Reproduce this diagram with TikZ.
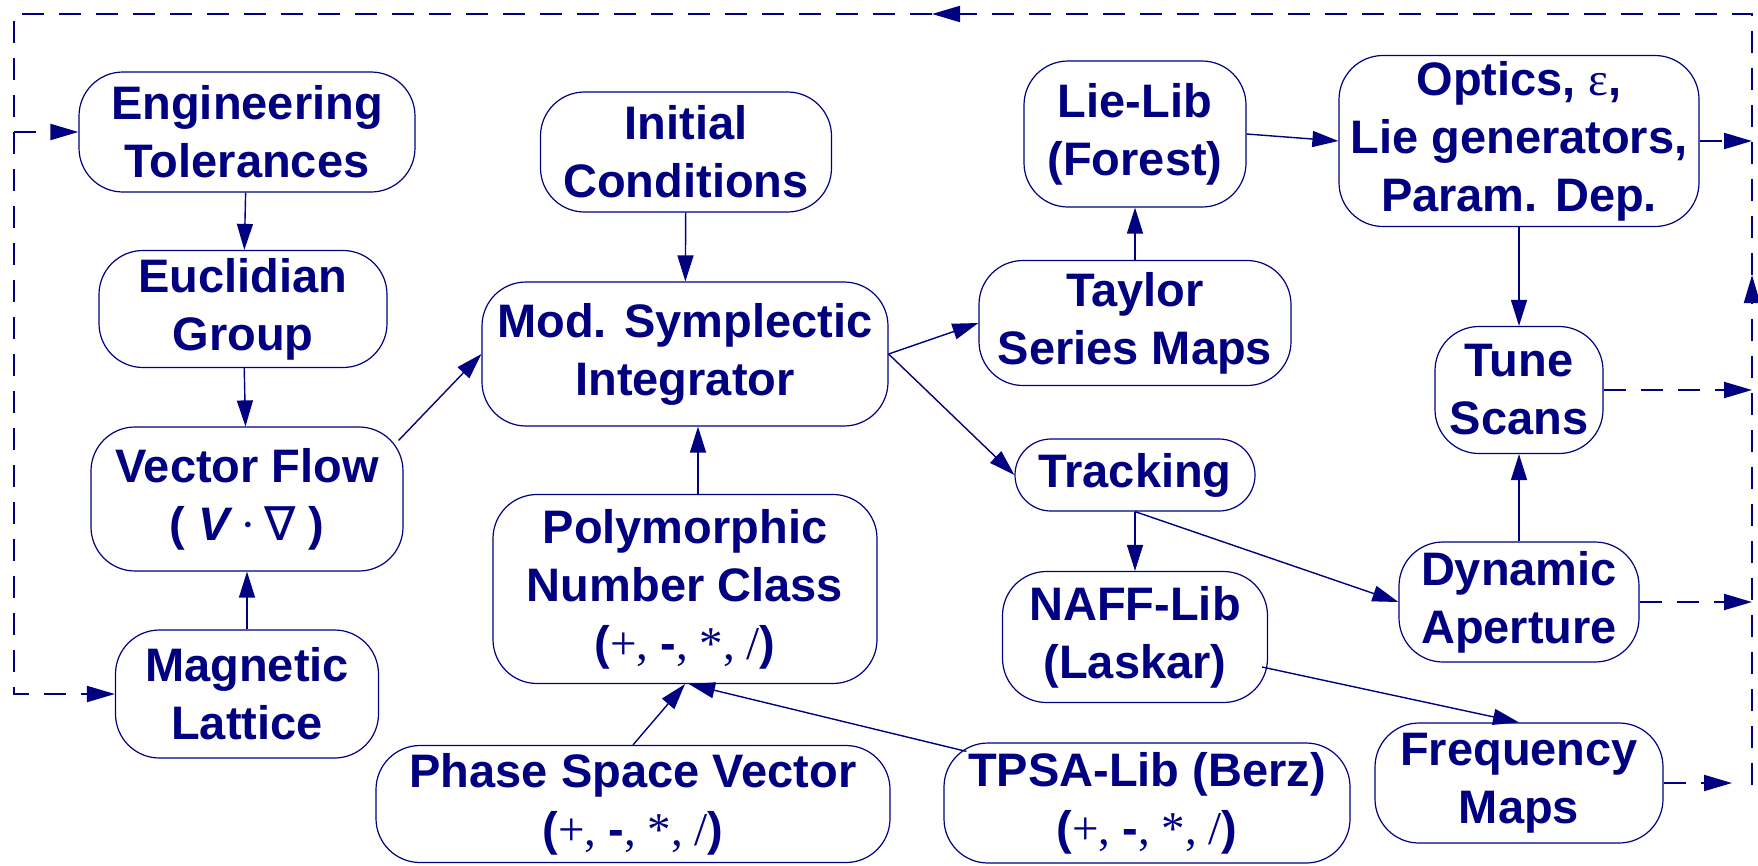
\documentclass[tikz,border=0pt]{standalone}
\usepackage{fontspec}
\setmainfont{Liberation Sans}
\newfontfamily\symbolfont{Liberation Serif}
\newfontfamily\dejavufont{DejaVu Sans}
\usetikzlibrary{arrows.meta}
\definecolor{navyblue}{RGB}{0,0,128}
\newcommand{\arith}{\textbf{(}{\symbolfont\mdseries +, }\textbf{-}{\symbolfont\mdseries , *, /}\textbf{)}}
\begin{document}
\begin{tikzpicture}[x=1pt, y=-1pt,
        every node/.style={font=\fontsize{47}{58}\selectfont\bfseries, text=navyblue},
        box/.style={draw=navyblue, line width=1.2pt, rounded corners=44pt, align=center, inner sep=0pt},
        size/.style 2 args={minimum width=#1pt, minimum height=#2pt},
        arr/.style={draw=navyblue, line width=1.4pt, -{Triangle[length=26pt,width=16pt]}},
        loopline/.style={draw=navyblue, line width=2pt, dash pattern=on 22pt off 15pt},
        looparr/.style={loopline, -{Triangle[length=28pt,width=16pt]}}]
    \useasboundingbox (0,0) rectangle (1758,865);
    \node[box, size={336}{120}] (et) at (247,132) {Engineering\\Tolerances};
    \node[box, size={288}{117}] (eg) at (243,309) {Euclidian\\Group};
    \node[box, size={312}{144}] (vf) at (247,499) {Vector Flow\\\textbf{(} \textit{V}\,{\symbolfont\mdseries ·}\,{\dejavufont\mdseries ∇} \textbf{)}};
    \node[box, size={263}{128}] (ml) at (247,694) {Magnetic\\Lattice};
    \node[box, size={291}{120}] (ic) at (686,152) {Initial\\Conditions};
    \node[box, size={406}{144}] (ms) at (685,354) {Mod. Symplectic\\Integrator};
    \node[box, size={384}{189}] (pn) at (685,589) {Polymorphic\\Number Class\\\arith};
    \node[box, size={514}{117}] (ps) at (633,804) {Phase Space Vector\\\arith};
    \node[box, size={406}{120}] (tp) at (1147,803) {TPSA-Lib (Berz)\\\arith};
    \node[box, size={222}{146}] (ll) at (1135,134) {Lie-Lib\\(Forest)};
    \node[box, size={312}{125}] (ts) at (1135,323) {Taylor\\Series Maps};
    \node[box, size={240}{72}, rounded corners=36pt] (tr) at (1135,475) {Tracking};
    \node[box, size={265}{131}] (na) at (1135,637) {NAFF-Lib\\(Laskar)};
    \node[box, size={360}{171}] (op) at (1519,141) {Optics, {\symbolfont\mdseries ε},\\Lie generators,\\Param. Dep.};
    \node[box, size={168}{127}] (tu) at (1519,390) {Tune\\Scans};
    \node[box, size={240}{120}] (da) at (1519,602) {Dynamic\\Aperture};
    \node[box, size={288}{120}] (fm) at (1519,783) {Frequency\\Maps};

    \draw[arr] (et) -- (eg);
    \draw[arr] (eg) -- (vf);
    \draw[arr] (ml) -- (vf);
    \draw[arr] ([xshift=-5pt,yshift=-14pt]vf.north east) -- (ms.west);
    \draw[arr] (ic) -- (ms);
    \draw[arr] ([xshift=13pt]pn.north) -- ([xshift=13pt]ms.south);
    \draw[arr] (ps.north) -- (pn.south);
    \draw[arr] ([xshift=23pt,yshift=-9pt]tp.north west) -- ([xshift=4pt]pn.south);
    \draw[arr] (ms.east) -- (ts.west);
    \draw[arr] (ms.east) -- (tr.west);
    \draw[arr] (ts) -- (ll);
    \draw[arr] (ll.east) -- (op.west);
    \draw[arr] (op) -- (tu);
    \draw[arr] (tr) -- (na);
    \draw[arr] (tr.south) -- (da.west);
    \draw[arr] ([xshift=-6pt,yshift=-30pt]na.east) -- (fm.north);
    \draw[arr] (da) -- (tu);

    \coordinate (rb) at (1752,785);
    \coordinate (rm) at (1752,275);
    \coordinate (rt) at (1752,14);
    \coordinate (tm) at (932,14);
    \coordinate (lt) at (14,14);
    \coordinate (lb) at (14,694);
    \coordinate (fe) at (1732,783);
    \draw[looparr] (op.east) -- (op.east -| rt);
    \draw[looparr] (tu.east) -- (tu.east -| rt);
    \draw[looparr] (da.east) -- (da.east -| rt);
    \draw[looparr] (fm.east) -- (fe);
    \draw[looparr] (rb) -- (rm);
    \draw[looparr] (rm) -- (rt) -- (tm);
    \draw[looparr] (tm) -- (lt) -- (lb) -- (ml.west);
    \draw[looparr] (lt |- et.west) -- (et.west);
\end{tikzpicture}
\end{document}
